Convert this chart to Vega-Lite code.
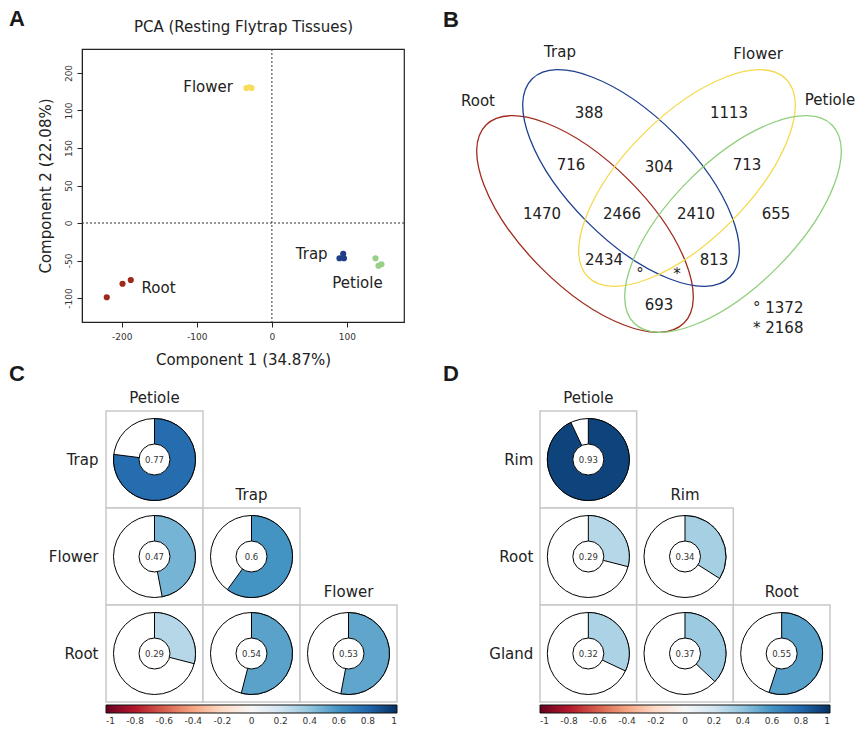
{
  "$schema": "https://vega.github.io/schema/vega-lite/v6.json",
  "autosize": {"type": "pad"},
  "padding": {"left": 8, "top": 6, "right": 0, "bottom": 0},
  "background": "white",
  "config": {
    "font": "DejaVu Sans",
    "view": {"stroke": null},
    "axis": {"grid": false, "labelFont": "DejaVu Sans", "titleFont": "DejaVu Sans", "labelFontSize": 9, "titleFontSize": 15, "titleFontWeight": "normal", "labelColor": "#333", "titleColor": "#222", "domainColor": "#222", "tickColor": "#222", "tickSize": 5},
    "title": {"font": "Liberation Sans", "fontSize": 22, "fontWeight": "bold", "anchor": "start", "frame": "group", "color": "#1a1a1a", "offset": 0},
    "text": {"font": "DejaVu Sans", "fill": "#222"},
    "legend": {"labelFont": "DejaVu Sans"}
  },
  "columns": 2,
  "bounds": "flush",
  "spacing": {"row": 89, "column": 36},
  "resolve": {"scale": {"color": "independent", "stroke": "independent", "angle": "independent", "x": "independent", "y": "independent", "theta": "independent"}, "legend": {"color": "independent"}},
  "concat": [
    {
      "title": {"text": "A", "dx": -73, "dy": 15},
      "width": 322,
      "height": 273,
      "view": {"stroke": "#222", "strokeWidth": 1.2},
      "resolve": {"axis": {"x": "independent"}},
      "layer": [
        {
          "data": {"values": [{"pc1": 0}]},
          "mark": {"type": "rule", "strokeDash": [2, 2], "color": "#333", "strokeWidth": 1},
          "encoding": {
            "x": {"field": "pc1", "type": "quantitative", "scale": {"domain": [-253, 176], "nice": false, "zero": false},
              "axis": {"orient": "top", "title": "PCA (Resting Flytrap Tissues)", "labels": false, "ticks": false, "domain": false, "titlePadding": 14.5}}
          }
        },
        {
          "data": {"values": [{"pc2": 0}]},
          "mark": {"type": "rule", "strokeDash": [2, 2], "color": "#333", "strokeWidth": 1},
          "encoding": {
            "y": {"field": "pc2", "type": "quantitative", "scale": {"domain": [-132, 232], "nice": false, "zero": false},
              "axis": {"values": [-100, -50, 0, 50, 100, 150, 200], "labelExpr": "datum.value == 100 ? '150' : datum.value == 150 ? '100' : replace(datum.label, '\u2212', '-')", "labelAngle": -90, "labelAlign": "center", "labelBaseline": "bottom", "labelPadding": 4, "title": "Component 2 (22.08%)", "titlePadding": 11}}
          }
        },
        {
          "data": {"values": [
            {"tissue": "Root", "pc1": -220, "pc2": -99},
            {"tissue": "Root", "pc1": -199, "pc2": -81},
            {"tissue": "Root", "pc1": -188, "pc2": -76},
            {"tissue": "Flower", "pc1": -34, "pc2": 180},
            {"tissue": "Flower", "pc1": -30, "pc2": 181},
            {"tissue": "Flower", "pc1": -27, "pc2": 180},
            {"tissue": "Trap", "pc1": 90, "pc2": -47},
            {"tissue": "Trap", "pc1": 95, "pc2": -41},
            {"tissue": "Trap", "pc1": 96, "pc2": -47},
            {"tissue": "Petiole", "pc1": 138, "pc2": -47},
            {"tissue": "Petiole", "pc1": 142, "pc2": -57},
            {"tissue": "Petiole", "pc1": 146, "pc2": -55}
          ]},
          "mark": {"type": "circle", "size": 38, "opacity": 1},
          "encoding": {
            "x": {"field": "pc1", "type": "quantitative", "axis": {"orient": "bottom", "values": [-200, -100, 0, 100], "labelExpr": "replace(datum.label, '\u2212', '-')", "labelPadding": 5, "title": "Component 1 (34.87%)", "titlePadding": 11}},
            "y": {"field": "pc2", "type": "quantitative"},
            "color": {"field": "tissue", "type": "nominal", "legend": null,
              "scale": {"domain": ["Root", "Flower", "Trap", "Petiole"], "range": ["#9e2a1c", "#f7dd5f", "#1f3d88", "#98d086"]}}
          }
        },
        {
          "data": {"values": [
            {"tissue": "Flower", "pc1": -85, "pc2": 181},
            {"tissue": "Root", "pc1": -151, "pc2": -87},
            {"tissue": "Trap", "pc1": 53, "pc2": -41},
            {"tissue": "Petiole", "pc1": 114, "pc2": -80}
          ]},
          "mark": {"type": "text", "fontSize": 15, "align": "center", "baseline": "middle"},
          "encoding": {
            "x": {"field": "pc1", "type": "quantitative", "axis": null},
            "y": {"field": "pc2", "type": "quantitative"},
            "text": {"field": "tissue"}
          }
        }
      ]
    },
    {
      "title": {"text": "B", "dx": 3, "dy": -9},
      "width": 417,
      "height": 273,
      "layer": [
        {
          "data": {"values": [
            {"set": "Root", "cx": 14.5, "cy": 9.8},
            {"set": "Trap", "cx": 19.1, "cy": 14.4},
            {"set": "Flower", "cx": 24.7, "cy": 14.4},
            {"set": "Petiole", "cx": 29.3, "cy": 9.8}
          ]},
          "mark": {"type": "point", "filled": false, "opacity": 1, "strokeWidth": 1.3, "size": 78400,
            "shape": "M 1 0 C 1 0.2447 0.5523 0.443 0 0.443 C -0.5523 0.443 -1 0.2447 -1 0 C -1 -0.2447 -0.5523 -0.443 0 -0.443 C 0.5523 -0.443 1 -0.2447 1 0 Z"},
          "encoding": {
            "x": {"field": "cx", "type": "quantitative", "scale": {"domain": [0, 41.7], "nice": false, "zero": false}, "axis": null},
            "y": {"field": "cy", "type": "quantitative", "scale": {"domain": [0, 27.3], "nice": false, "zero": false}, "axis": null},
            "stroke": {"field": "set", "type": "nominal", "legend": null,
              "scale": {"domain": ["Root", "Trap", "Flower", "Petiole"], "range": ["#a02a1c", "#1c3f8f", "#f5d94b", "#8fcf7a"]}},
            "angle": {"field": "set", "type": "nominal", "legend": null,
              "scale": {"type": "ordinal", "domain": ["Root", "Trap", "Flower", "Petiole"], "range": [45, 45, -45, -45]}}
          }
        },
        {
          "data": {"values": [
            {"label": "Trap", "x": 12.0, "y": 27.0},
            {"label": "Flower", "x": 31.8, "y": 26.8},
            {"label": "Root", "x": 3.8, "y": 22.1},
            {"label": "Petiole", "x": 39.0, "y": 22.2},
            {"label": "388", "x": 14.9, "y": 20.9},
            {"label": "1113", "x": 28.9, "y": 20.9},
            {"label": "716", "x": 13.1, "y": 15.7},
            {"label": "304", "x": 21.9, "y": 15.5},
            {"label": "713", "x": 30.7, "y": 15.7},
            {"label": "1470", "x": 10.2, "y": 10.8},
            {"label": "2466", "x": 18.2, "y": 10.8},
            {"label": "2410", "x": 25.6, "y": 10.8},
            {"label": "655", "x": 33.6, "y": 10.8},
            {"label": "2434", "x": 16.4, "y": 6.2},
            {"label": "813", "x": 27.4, "y": 6.2},
            {"label": "°", "x": 20.0, "y": 4.8},
            {"label": "*", "x": 23.7, "y": 4.8},
            {"label": "693", "x": 21.9, "y": 1.7}
          ]},
          "mark": {"type": "text", "fontSize": 15, "align": "center", "baseline": "middle"},
          "encoding": {
            "x": {"field": "x", "type": "quantitative"},
            "y": {"field": "y", "type": "quantitative"},
            "text": {"field": "label"}
          }
        },
        {
          "data": {"values": [
            {"label": "° 1372", "x": 31.3, "y": 1.4},
            {"label": "* 2168", "x": 31.3, "y": -0.6}
          ]},
          "mark": {"type": "text", "fontSize": 15, "align": "left", "baseline": "middle"},
          "encoding": {
            "x": {"field": "x", "type": "quantitative"},
            "y": {"field": "y", "type": "quantitative"},
            "text": {"field": "label"}
          }
        }
      ]
    },
    {
      "title": {"text": "C", "dx": -73, "dy": -1},
      "width": 315,
      "height": 291,
      "layer": [
        {
          "data": {"values": [
            {"col": 0, "row": 0, "r": 0.77},
            {"col": 0, "row": 1, "r": 0.47},
            {"col": 1, "row": 1, "r": 0.6},
            {"col": 0, "row": 2, "r": 0.29},
            {"col": 1, "row": 2, "r": 0.54},
            {"col": 2, "row": 2, "r": 0.53}
          ]},
          "layer": [
            {
              "mark": {"type": "rect", "fill": "white", "stroke": "#c8c8c8", "strokeWidth": 1.5},
              "encoding": {
                "x": {"field": "col", "type": "ordinal", "scale": {"domain": [0, 1, 2], "paddingInner": 0, "paddingOuter": 0.1237, "align": 1}, "axis": null},
                "y": {"field": "row", "type": "ordinal", "scale": {"domain": [0, 1, 2], "paddingInner": 0, "paddingOuter": 0}, "axis": null}
              }
            },
            {
              "mark": {"type": "point", "shape": "circle", "filled": true, "fill": "white", "stroke": "black", "strokeWidth": 1, "size": 6724, "opacity": 1},
              "encoding": {"x": {"field": "col", "type": "ordinal"}, "y": {"field": "row", "type": "ordinal"}}
            },
            {
              "mark": {"type": "arc", "outerRadius": 41, "innerRadius": 0, "stroke": "black", "strokeWidth": 1},
              "encoding": {
                "x": {"field": "col", "type": "ordinal"},
                "y": {"field": "row", "type": "ordinal"},
                "theta": {"field": "r", "type": "quantitative", "scale": {"domain": [0, 1], "range": [0, 6.283185307179586]}},
                "theta2": {"datum": 0},
                "color": {"field": "r", "type": "quantitative",
                  "scale": {"domain": [-1, -0.8, -0.6, -0.4, -0.2, 0, 0.2, 0.4, 0.6, 0.8, 1], "range": ["#67001f", "#b2182b", "#d6604d", "#f4a582", "#fddbc7", "#f7f7f7", "#d1e5f0", "#92c5de", "#4393c3", "#2166ac", "#053061"], "interpolate": "rgb"},
                  "legend": {"orient": "none", "legendX": 24, "legendY": 294, "padding": 0, "direction": "horizontal", "gradientLength": 291, "gradientThickness": 8, "title": null,
                    "values": [-1, -0.8, -0.6, -0.4, -0.2, 0, 0.2, 0.4, 0.6, 0.8, 1], "labelFontSize": 9, "labelColor": "#333", "labelOverlap": false, "labelAlign": "center", "labelOffset": 4,
                    "gradientStrokeColor": "#111", "gradientStrokeWidth": 1, "labelExpr": "replace(format(datum.value, '~g'), '\u2212', '-')"}}
              }
            },
            {
              "mark": {"type": "point", "shape": "circle", "filled": true, "fill": "white", "stroke": "black", "strokeWidth": 1, "size": 961, "opacity": 1},
              "encoding": {"x": {"field": "col", "type": "ordinal"}, "y": {"field": "row", "type": "ordinal"}}
            },
            {
              "mark": {"type": "text", "fontSize": 8.5, "fill": "#333", "align": "center", "baseline": "middle"},
              "encoding": {"x": {"field": "col", "type": "ordinal"}, "y": {"field": "row", "type": "ordinal"}, "text": {"field": "r", "type": "quantitative"}}
            }
          ]
        },
        {
          "data": {"values": [
            {"col": 0, "row": 0, "label": "Petiole"},
            {"col": 1, "row": 1, "label": "Trap"},
            {"col": 2, "row": 2, "label": "Flower"}
          ]},
          "mark": {"type": "text", "fontSize": 15, "align": "center", "baseline": "middle", "dy": -62},
          "encoding": {"x": {"field": "col", "type": "ordinal"}, "y": {"field": "row", "type": "ordinal"}, "text": {"field": "label"}}
        },
        {
          "data": {"values": [
            {"col": 0, "row": 0, "label": "Trap"},
            {"col": 0, "row": 1, "label": "Flower"},
            {"col": 0, "row": 2, "label": "Root"}
          ]},
          "mark": {"type": "text", "fontSize": 15, "align": "right", "baseline": "middle", "dx": -56},
          "encoding": {"x": {"field": "col", "type": "ordinal"}, "y": {"field": "row", "type": "ordinal"}, "text": {"field": "label"}}
        }
      ]
    },
    {
      "title": {"text": "D", "dx": 3, "dy": -1},
      "width": 390,
      "height": 291,
      "layer": [
        {
          "data": {"values": [
            {"col": 0, "row": 0, "r": 0.93},
            {"col": 0, "row": 1, "r": 0.29},
            {"col": 1, "row": 1, "r": 0.34},
            {"col": 0, "row": 2, "r": 0.32},
            {"col": 1, "row": 2, "r": 0.37},
            {"col": 2, "row": 2, "r": 0.55}
          ]},
          "layer": [
            {
              "mark": {"type": "rect", "fill": "white", "stroke": "#c8c8c8", "strokeWidth": 1.5},
              "encoding": {
                "x": {"field": "col", "type": "ordinal", "scale": {"domain": [0, 1, 2], "paddingInner": 0, "paddingOuter": 0.5172, "align": 1}, "axis": null},
                "y": {"field": "row", "type": "ordinal", "scale": {"domain": [0, 1, 2], "paddingInner": 0, "paddingOuter": 0}, "axis": null}
              }
            },
            {
              "mark": {"type": "point", "shape": "circle", "filled": true, "fill": "white", "stroke": "black", "strokeWidth": 1, "size": 6724, "opacity": 1},
              "encoding": {"x": {"field": "col", "type": "ordinal"}, "y": {"field": "row", "type": "ordinal"}}
            },
            {
              "mark": {"type": "arc", "outerRadius": 41, "innerRadius": 0, "stroke": "black", "strokeWidth": 1},
              "encoding": {
                "x": {"field": "col", "type": "ordinal"},
                "y": {"field": "row", "type": "ordinal"},
                "theta": {"field": "r", "type": "quantitative", "scale": {"domain": [0, 1], "range": [0, 6.283185307179586]}},
                "theta2": {"datum": 0},
                "color": {"field": "r", "type": "quantitative",
                  "scale": {"domain": [-1, -0.8, -0.6, -0.4, -0.2, 0, 0.2, 0.4, 0.6, 0.8, 1], "range": ["#67001f", "#b2182b", "#d6604d", "#f4a582", "#fddbc7", "#f7f7f7", "#d1e5f0", "#92c5de", "#4393c3", "#2166ac", "#053061"], "interpolate": "rgb"},
                  "legend": {"orient": "none", "legendX": 100, "legendY": 294, "padding": 0, "direction": "horizontal", "gradientLength": 290, "gradientThickness": 8, "title": null,
                    "values": [-1, -0.8, -0.6, -0.4, -0.2, 0, 0.2, 0.4, 0.6, 0.8, 1], "labelFontSize": 9, "labelColor": "#333", "labelOverlap": false, "labelAlign": "center", "labelOffset": 4,
                    "gradientStrokeColor": "#111", "gradientStrokeWidth": 1, "labelExpr": "replace(format(datum.value, '~g'), '\u2212', '-')"}}
              }
            },
            {
              "mark": {"type": "point", "shape": "circle", "filled": true, "fill": "white", "stroke": "black", "strokeWidth": 1, "size": 961, "opacity": 1},
              "encoding": {"x": {"field": "col", "type": "ordinal"}, "y": {"field": "row", "type": "ordinal"}}
            },
            {
              "mark": {"type": "text", "fontSize": 8.5, "fill": "#333", "align": "center", "baseline": "middle"},
              "encoding": {"x": {"field": "col", "type": "ordinal"}, "y": {"field": "row", "type": "ordinal"}, "text": {"field": "r", "type": "quantitative"}}
            }
          ]
        },
        {
          "data": {"values": [
            {"col": 0, "row": 0, "label": "Petiole"},
            {"col": 1, "row": 1, "label": "Rim"},
            {"col": 2, "row": 2, "label": "Root"}
          ]},
          "mark": {"type": "text", "fontSize": 15, "align": "center", "baseline": "middle", "dy": -62},
          "encoding": {"x": {"field": "col", "type": "ordinal"}, "y": {"field": "row", "type": "ordinal"}, "text": {"field": "label"}}
        },
        {
          "data": {"values": [
            {"col": 0, "row": 0, "label": "Rim"},
            {"col": 0, "row": 1, "label": "Root"},
            {"col": 0, "row": 2, "label": "Gland"}
          ]},
          "mark": {"type": "text", "fontSize": 15, "align": "right", "baseline": "middle", "dx": -55},
          "encoding": {"x": {"field": "col", "type": "ordinal"}, "y": {"field": "row", "type": "ordinal"}, "text": {"field": "label"}}
        }
      ]
    }
  ]
}
